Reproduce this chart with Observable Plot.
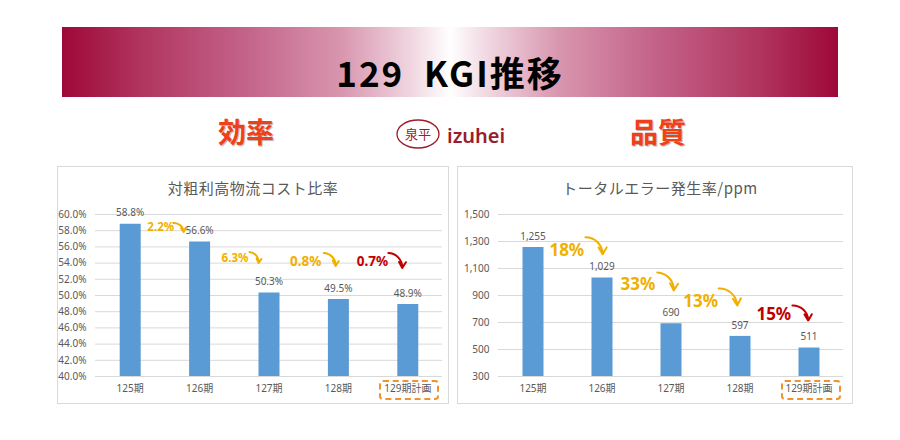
<!DOCTYPE html>
<html><head><meta charset="utf-8">
<script src="https://cdn.jsdelivr.net/npm/d3@7"></script>
<script src="https://cdn.jsdelivr.net/npm/@observablehq/plot@0.6"></script>
<style>
html,body{margin:0;padding:0;background:#fff;width:900px;height:440px;overflow:hidden;font-family:"Noto Sans","Noto Sans CJK JP",sans-serif;}
#page{position:relative;width:900px;height:440px;background:#fff;}
.banner{position:absolute;left:62px;top:27px;width:776px;height:70px;
 background:linear-gradient(90deg,#9e0838 0%,#b0345e 10%,#c4648a 24%,#d896ae 36%,#f0d6e0 45%,#ffffff 50%,#f0d6e0 55%,#d896ae 64%,#c4648a 76%,#b0345e 90%,#9e0838 100%);}
.banner-title{position:absolute;left:0;right:0;top:27px;text-align:center;font:700 35px/35px "Noto Sans CJK JP",sans-serif;letter-spacing:2px;color:#000;white-space:pre;}
.head{position:absolute;top:117px;font:700 28px/28px "Noto Sans CJK JP",sans-serif;color:#f0401a;text-shadow:1px 1px 1px rgba(0,0,0,0.3);}
.panel{position:absolute;top:166px;height:238px;border:1px solid #d9d9d9;box-sizing:border-box;}
.ctitle{position:absolute;top:178px;height:20px;text-align:center;font:400 15px/20px "Noto Sans CJK JP",sans-serif;color:#595959;letter-spacing:0.5px;}
.chart{position:absolute;top:195px;}
.dash{position:absolute;border:2px dashed #f0922e;border-radius:4px;box-sizing:border-box;}
</style></head>
<body><div id="page">
<div class="banner"><div class="banner-title">129  KGI推移</div></div>
<div class="head" style="left:218px">効率</div>
<div class="head" style="left:630px">品質</div>
<svg style="position:absolute;left:393px;top:117px" width="120" height="36">
 <ellipse cx="25" cy="17" rx="21" ry="14" fill="none" stroke="#9B1C2B" stroke-width="1.3"/>
 <text x="25" y="22" text-anchor="middle" font-size="13" fill="#9B1C2B" font-family="Noto Sans CJK JP">泉平</text>
 <text x="54" y="26" font-size="20" font-weight="600" fill="#9B1C2B" font-family="Noto Sans">izuhei</text>
</svg>
<div class="panel" style="left:57px;width:392px"></div>
<div class="panel" style="left:457px;width:396px"></div>
<div class="ctitle" style="left:57px;width:392px">対粗利高物流コスト比率</div>
<div class="ctitle" style="left:462px;width:396px">トータルエラー発生率/ppm</div>
<div id="left" class="chart" style="left:57px"></div>
<div id="right" class="chart" style="left:457px"></div>
</div>
<script>
// ---- data ----
const periods = ["125期", "126期", "127期", "128期", "129期計画"];
const costRatio = [58.8, 56.6, 50.3, 49.5, 48.9];
const errorRate = [1255, 1029, 690, 597, 511];
const costTicks = [40, 42, 44, 46, 48, 50, 52, 54, 56, 58, 60];
const errorTicks = [300, 500, 700, 900, 1100, 1300, 1500];

// reduction notes (value-space positions)
const costNoteLabels = ["2.2%", "6.3%", "0.8%", "0.7%"];
const costNoteX = [0.44, 1.51, 2.53, 3.49];
const costNoteY = [58.46, 54.55, 54.14, 54.14];
const costArrowX1 = [0.62, 1.72, 2.79, 3.72];
const costArrowY1 = [58.95, 55.38, 55.25, 55.25];
const costArrowX2 = [0.77, 1.85, 2.96, 3.92];
const costArrowY2 = [57.84, 54.02, 53.65, 53.40];

const errorNoteLabels = ["18%", "33%", "13%", "15%"];
const errorNoteX = [0.49, 1.52, 2.43, 3.49];
const errorNoteY = [1235, 980, 855, 757];
const errorArrowX1 = [0.76, 1.80, 2.69, 3.76];
const errorArrowY1 = [1331, 1071, 952, 826];
const errorArrowX2 = [1.01, 2.04, 2.96, 3.99];
const errorArrowY2 = [1205, 937, 826, 714];

const GOLD = "#efb000", RED = "#c00000", BLUE = "#5b9bd5", GRID = "#d9d9d9", TXT = "#595959";
const idx = periods.map((p, i) => i);
const noteIdx = [0, 1, 2, 3];
const noteColor = i => i === 3 ? RED : GOLD;

function makeChart({values, ticks, fmt, labelFmt, noteLabels, noteX, noteY, ax1, ay1, ax2, ay2, width, marginLeft, marginRight, noteSize}) {
  const rows = periods.map((p, i) => ({i, period: p, value: values[i]}));
  const ymin = ticks[0], ymax = ticks[ticks.length - 1];
  return Plot.plot({
    width, height: 209, marginLeft, marginRight, marginTop: 19, marginBottom: 28,
    style: {fontFamily: "'Noto Sans','Noto Sans CJK JP',sans-serif", fontSize: "10px", color: TXT, background: "transparent", overflow: "visible"},
    x: {type: "linear", domain: [-0.5, 4.5], ticks: idx, tickFormat: i => periods[i], tickSize: 0, tickPadding: 8, label: null},
    y: {domain: [ymin, ymax], ticks: ticks, tickFormat: fmt, tickSize: 0, tickPadding: 9, label: null},
    marks: [
      Plot.ruleY(ticks, {stroke: GRID, strokeWidth: 1}),
      Plot.ruleX(rows, {x: "i", y1: ymin, y2: "value", stroke: BLUE, strokeWidth: 21}),
      Plot.text(rows, {x: "i", y: "value", text: d => labelFmt(d.value), dy: -11, fill: TXT, fontSize: 10}),
      Plot.text(noteIdx, {x: i => noteX[i], y: i => noteY[i], text: i => noteLabels[i], fill: noteColor, fontWeight: "bold", fontSize: noteSize}),
      Plot.arrow(noteIdx, {x1: i => ax1[i], y1: i => ay1[i], x2: i => ax2[i], y2: i => ay2[i], bend: 45, stroke: noteColor, strokeWidth: 2, headLength: 6})
    ]
  });
}

const left = makeChart({
  values: costRatio, ticks: costTicks, fmt: d => d.toFixed(1) + "%", labelFmt: v => v.toFixed(1) + "%",
  noteLabels: costNoteLabels, noteX: costNoteX, noteY: costNoteY,
  ax1: costArrowX1, ay1: costArrowY1, ax2: costArrowX2, ay2: costArrowY2,
  width: 391, marginLeft: 38, marginRight: 6, noteSize: i => i < 2 ? 11.5 : 13.5
});
const right = makeChart({
  values: errorRate, ticks: errorTicks, fmt: d3.format(","), labelFmt: d3.format(","),
  noteLabels: errorNoteLabels, noteX: errorNoteX, noteY: errorNoteY,
  ax1: errorArrowX1, ay1: errorArrowY1, ax2: errorArrowX2, ay2: errorArrowY2,
  width: 395, marginLeft: 41, marginRight: 9, noteSize: 17
});
document.getElementById("left").appendChild(left);
document.getElementById("right").appendChild(right);

// dashed highlight around the planned period label
function addDash(chart, pageLeft) {
  const cx = chart.scale("x").apply(periods.length - 1);
  const base = chart.scale("y").apply(chart.scale("y").domain[0]);
  const d = document.createElement("div");
  d.className = "dash";
  d.style.left = (pageLeft + cx - 28) + "px";
  d.style.top = (195 + base + 4) + "px";
  d.style.width = "60px";
  d.style.height = "20px";
  document.getElementById("page").appendChild(d);
}
addDash(left, 57);
addDash(right, 457);
</script>
</body></html>
